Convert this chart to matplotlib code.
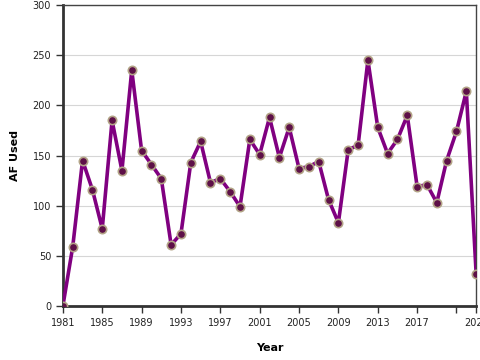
import numpy as np
import matplotlib.pyplot as plt

years = list(range(1981, 2024))
af_used = [0, 59, 145, 116, 77, 185, 135, 235, 155, 141,
           127, 61, 72, 143, 164, 123, 127, 114, 99, 166,
           151, 188, 148, 178, 137, 139, 144, 106, 83, 156,
           160, 245, 178, 152, 166, 190, 119, 121, 103, 145,
           174, 214, 32]

tick_years = list(range(1981, 2022, 4)) + [2023]
tick_labels = [str(y) for y in tick_years]
tick_labels[-2] = ""

fig = plt.figure(figsize=(4.8, 3.6), dpi=100)
ax = fig.add_axes([0.131, 0.15, 0.861, 0.836])

ax.plot(years, af_used, color="#800080", lw=2.6, zorder=3,
        marker="o", markersize=6, markerfacecolor="#5e1048",
        markeredgecolor="#b3a487", markeredgewidth=1.2)

ax.set_xlim(1981, 2023)
ax.set_ylim(0, 300)
ax.set_yticks(range(0, 301, 50))
ax.set_xticks(tick_years)
ax.set_xticklabels(tick_labels)
ax.grid(axis="y", color="#d6d6d6", lw=0.8)
ax.set_axisbelow(True)

for side in ["left", "bottom"]:
    ax.spines[side].set_linewidth(2)
    ax.spines[side].set_color("#333333")
for side in ["top", "right"]:
    ax.spines[side].set_linewidth(1)
    ax.spines[side].set_color("#444444")

ax.tick_params(axis="both", labelsize=7, color="#333333", labelcolor="#222222",
               length=5, width=1)
ax.set_xlabel("Year", fontsize=8, fontweight="bold", labelpad=11)
ax.set_ylabel("AF Used", fontsize=8, fontweight="bold", labelpad=9)

fig.savefig("out.png", dpi=100)
